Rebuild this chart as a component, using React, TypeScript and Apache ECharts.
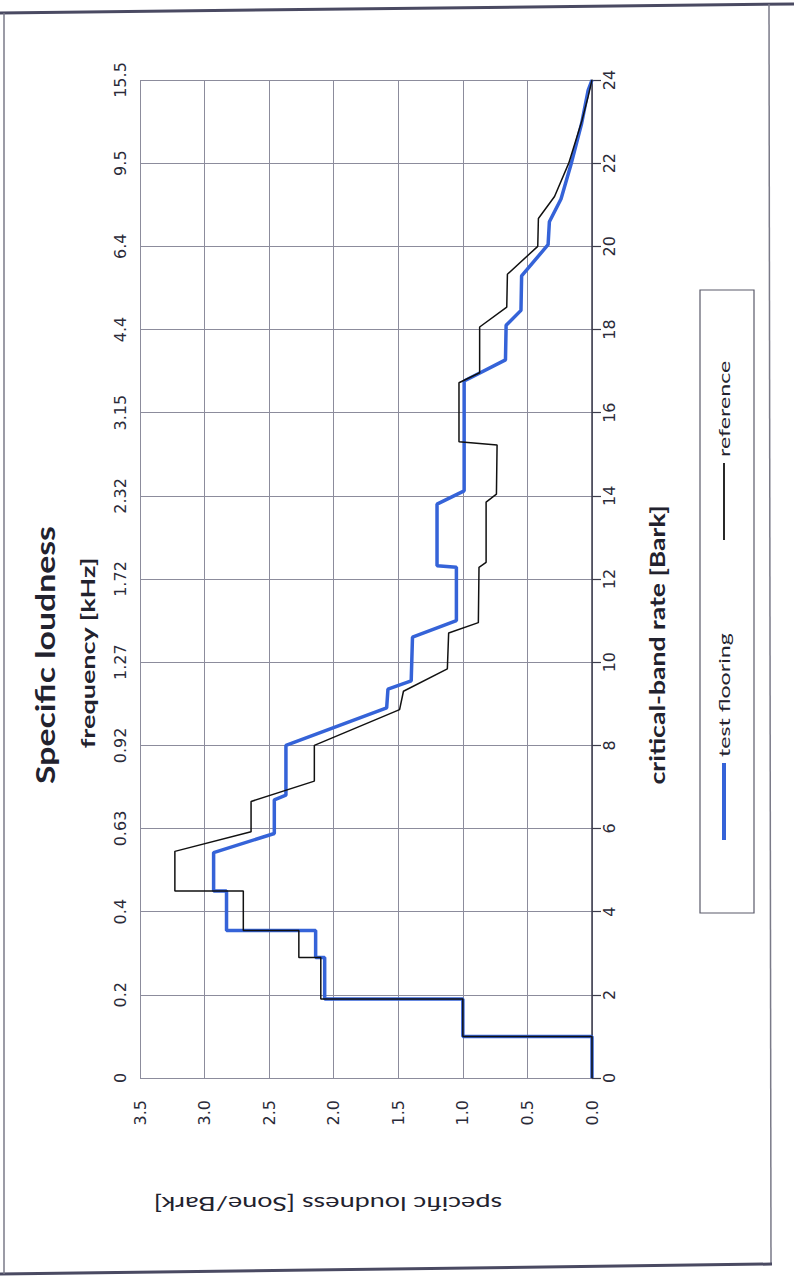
import React, { useEffect, useRef } from "react";
import * as echarts from "echarts";

// critical-band rate axis (Bark) and the matching frequency labels (kHz)
const barkMin = 0;
const barkMax = 24;
const barkStep = 2;
const freqLabels = ["0", "0.2", "0.4", "0.63", "0.92", "1.27", "1.72", "2.32", "3.15", "4.4", "6.4", "9.5", "15.5"];

// specific loudness axis (Sone/Bark)
const loudMin = 0;
const loudMax = 3.5;
const loudStep = 0.5;

// series: test flooring (blue)
const testBark = [0, 1.0, 1.0, 1.9, 1.9, 2.9, 2.9, 3.55, 3.55, 4.5, 4.5, 5.42, 5.88, 6.69, 6.8, 8.0, 8.9, 9.35, 9.55, 10.6, 11.0, 12.28, 12.32, 13.8, 14.12, 16.76, 17.27, 18.1, 18.46, 19.29, 20.04, 20.59, 21.14, 22.0, 22.96, 23.75, 24];
const testLoud = [0, 0, 1.0, 1.0, 2.07, 2.07, 2.14, 2.14, 2.83, 2.83, 2.93, 2.93, 2.46, 2.46, 2.37, 2.37, 1.59, 1.58, 1.4, 1.39, 1.05, 1.05, 1.2, 1.2, 0.99, 0.99, 0.67, 0.665, 0.55, 0.545, 0.34, 0.33, 0.24, 0.16, 0.08, 0.03, 0];

// series: reference (black)
const refBark = [0, 1.0, 1.0, 1.9, 1.9, 2.9, 2.9, 3.55, 3.55, 4.5, 4.5, 5.45, 5.92, 6.65, 7.14, 8.0, 8.86, 9.3, 9.84, 10.7, 10.95, 12.28, 12.4, 13.85, 14.04, 15.22, 15.3, 16.72, 16.96, 18.06, 18.54, 19.33, 20.0, 20.67, 21.2, 22.0, 23.0, 23.6, 24];
const refLoud = [0, 0, 1.0, 1.0, 2.1, 2.1, 2.27, 2.27, 2.7, 2.7, 3.23, 3.23, 2.64, 2.64, 2.15, 2.15, 1.49, 1.46, 1.12, 1.11, 0.88, 0.875, 0.82, 0.82, 0.74, 0.735, 1.03, 1.03, 0.87, 0.87, 0.66, 0.655, 0.42, 0.415, 0.29, 0.18, 0.08, 0.03, 0];

const seriesNames = ["test flooring", "reference"];
const seriesColors = ["#3563d8", "#111111"];

const FONT = "Lato, 'Noto Sans', sans-serif";
const TICK_FONT = "'DejaVu Sans', 'Noto Sans', sans-serif";

export default function App() {
  const ref = useRef<HTMLDivElement>(null);

  useEffect(() => {
    if (!ref.current) return;
    const chart = echarts.init(ref.current, null, { renderer: "svg" });

    const testData = testBark.map((b, i) => [testLoud[i], b]);
    const refData = refBark.map((b, i) => [refLoud[i], b]);

    const gridColor = "#8c8c9c";
    const textColor = "#2a2a38";

    const option: any = {
      animation: false,
      backgroundColor: "#ffffff",
      grid: { left: 140, right: 202, top: 80, bottom: 202, containLabel: false },
      xAxis: {
        type: "value",
        min: loudMin,
        max: loudMax,
        interval: loudStep,
        inverse: true,
        position: "bottom",
        axisLine: { show: false },
        axisTick: { show: false },
        axisLabel: {
          rotate: 90,
          margin: 22,
          fontSize: 16,
          fontFamily: TICK_FONT,
          color: textColor,
          formatter: (v: number) => v.toFixed(1),
        },
        splitLine: { show: true, lineStyle: { color: gridColor, width: 1 } },
      },
      yAxis: [
        {
          type: "value",
          min: barkMin,
          max: barkMax,
          interval: barkStep,
          position: "right",
          axisLine: { show: true, onZero: false, lineStyle: { color: "#3c3c4c", width: 1.5 } },
          axisTick: { show: true, length: 9, lineStyle: { color: "#3c3c4c", width: 1.2 } },
          axisLabel: {
            rotate: 90,
            margin: 9,
            fontSize: 16,
            fontFamily: TICK_FONT,
            color: textColor,
          },
          splitLine: { show: true, lineStyle: { color: gridColor, width: 1 } },
        },
        {
          type: "value",
          min: barkMin,
          max: barkMax,
          interval: barkStep,
          position: "left",
          axisLine: { show: false },
          axisTick: { show: false },
          axisLabel: {
            rotate: 90,
            margin: 12,
            fontSize: 16,
            fontFamily: TICK_FONT,
            color: textColor,
            formatter: (v: number) => freqLabels[Math.round((v - barkMin) / barkStep)] ?? "",
          },
          splitLine: { show: false },
        },
      ],
      series: [
        {
          name: seriesNames[0],
          type: "line",
          xAxisIndex: 0,
          yAxisIndex: 0,
          data: testData,
          showSymbol: false,
          lineStyle: { color: seriesColors[0], width: 3.5 },
          z: 2,
        },
        {
          name: seriesNames[1],
          type: "line",
          xAxisIndex: 0,
          yAxisIndex: 0,
          data: refData,
          showSymbol: false,
          lineStyle: { color: seriesColors[1], width: 1.5 },
          z: 3,
        },
      ],
      graphic: [
        // page frame
        { type: "line", shape: { x1: 0, y1: 13, x2: 794, y2: 4 }, style: { stroke: "#4a4a62", lineWidth: 3 } },
        { type: "line", shape: { x1: 769, y1: 4, x2: 771, y2: 1264 }, style: { stroke: "#7a7a88", lineWidth: 1.5 } },
        { type: "line", shape: { x1: 0, y1: 1274, x2: 772, y2: 1264 }, style: { stroke: "#4a4a62", lineWidth: 3 } },
        { type: "line", shape: { x1: 4, y1: 13, x2: 4, y2: 1274 }, style: { stroke: "#7a7a88", lineWidth: 1.5 } },
        // title and axis names
        {
          type: "text", x: 45, y: 655, rotation: Math.PI / 2, scaleX: 1.3,
          style: { text: "Specific loudness", font: `bold 26px ${FONT}`, fill: "#22222e", align: "center", verticalAlign: "middle" },
        },
        {
          type: "text", x: 88, y: 653, rotation: Math.PI / 2, scaleX: 1.5,
          style: { text: "frequency [kHz]", font: `bold 18px ${FONT}`, fill: "#22222e", align: "center", verticalAlign: "middle" },
        },
        {
          type: "text", x: 657, y: 645, rotation: Math.PI / 2, scaleX: 1.33,
          style: { text: "critical-band rate [Bark]", font: `bold 20px ${FONT}`, fill: "#22222e", align: "center", verticalAlign: "middle" },
        },
        {
          type: "text", x: 328, y: 1205, rotation: Math.PI, scaleX: 1.35,
          style: { text: "specific loudness [Sone/Bark]", font: `20px ${FONT}`, fill: "#22222e", align: "center", verticalAlign: "middle" },
        },
        // legend
        { type: "rect", shape: { x: 700, y: 290, width: 54, height: 623 }, style: { fill: "#ffffff", stroke: "#5a5a6a", lineWidth: 1.2 } },
        { type: "line", shape: { x1: 724, y1: 840, x2: 724, y2: 763 }, style: { stroke: seriesColors[0], lineWidth: 4 } },
        {
          type: "text", x: 724, y: 757, rotation: Math.PI / 2, scaleX: 1.45,
          style: { text: seriesNames[0], font: `16px ${FONT}`, fill: "#22222e", align: "left", verticalAlign: "middle" },
        },
        { type: "line", shape: { x1: 724, y1: 540, x2: 724, y2: 463 }, style: { stroke: seriesColors[1], lineWidth: 1.8 } },
        {
          type: "text", x: 724, y: 457, rotation: Math.PI / 2, scaleX: 1.45,
          style: { text: seriesNames[1], font: `16px ${FONT}`, fill: "#22222e", align: "left", verticalAlign: "middle" },
        },
      ],
    };

    chart.setOption(option);
    return () => chart.dispose();
  }, []);

  return <div ref={ref} style={{ position: "absolute", left: 0, top: 0, width: 794, height: 1280 }} />;
}
